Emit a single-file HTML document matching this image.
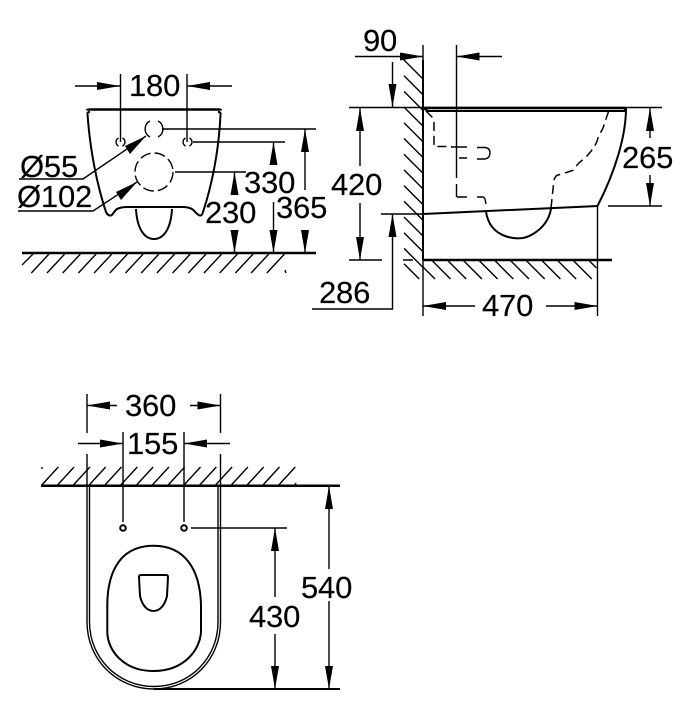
<!DOCTYPE html>
<html>
<head>
<meta charset="utf-8">
<style>
html,body{margin:0;padding:0;background:#fff;width:693px;height:720px;overflow:hidden}
svg{display:block}
text{font-family:"Liberation Sans",sans-serif;font-size:31px;fill:#000;stroke:#000;stroke-width:.15;letter-spacing:-.2px}
.l{fill:none;stroke:#000;stroke-width:1.4}
.m{fill:none;stroke:#000;stroke-width:2}
.t{fill:none;stroke:#000;stroke-width:2.5}
.h{fill:none;stroke:#000;stroke-width:1.4}
.d{fill:none;stroke:#000;stroke-width:1.5;stroke-dasharray:9 5}
.a{fill:#000;stroke:none}
</style>
</head>
<body>
<svg width="693" height="720" viewBox="0 0 693 720" xmlns="http://www.w3.org/2000/svg">
<rect width="693" height="720" fill="#fff"/>

<!-- FRONT VIEW -->
<path class="l" d="M75 86H120M187 86H232M120.500 74V142M187 74V142"/>
<path class="a" d="M120 86l-23-4v8zM187 86l23-4v8z"/>
<text x="129" y="96">180</text>
<path class="m" d="M90 112Q87 112 87.500 114C90 150 97 185 106 212Q108 216 111 215.500C113 215 114 211 117 209Q121 207 127 207H183Q188 207 192 209C195 211 197 215 200 215.500Q202 216 203 212C212 185 219 150 220.500 114Q221 112 218 112"/>
<path class="t" d="M87 110.500Q87 109.500 90 109.500H218Q221 109.500 221 110.500"/>
<path class="m" d="M136 209C137 228 144 239 154 239C164 239 171 228 172 209"/>
<path class="l" d="M150 121A9 9 0 0 0 150 137M158 121A9 9 0 0 1 158 137"/>
<path class="l" d="M118.500 138A4.500 4.500 0 0 0 118.500 146M122.500 138A4.500 4.500 0 0 1 122.500 146M185.500 138A4.500 4.500 0 0 0 185.500 146M189.500 138A4.500 4.500 0 0 1 189.500 146"/>
<circle class="l" cx="154" cy="172" r="19" stroke-dasharray="11 4"/>
<path class="l" d="M162 129H316M193 142H285M175 172H246"/>
<path class="l" d="M305 129V190M305 230V253M273.500 142V165M273.500 202V253M234.500 172V195M234.500 232V253"/>
<path class="a" d="M305 129l-4 23h8zM305 253l-4-23h8zM273.500 142l-4 23h8zM273.500 253l-4-23h8zM234.500 172l-4 23h8zM234.500 253l-4-23h8z"/>
<path class="t" d="M22 253H316"/>
<path class="h" d="M33 254L22 265M49 254l-17.700 19m33.400-19l-17.700 19m33.400-19l-17.700 19m33.400-19l-17.700 19m33.400-19l-17.700 19m33.400-19l-17.700 19m33.400-19l-17.700 19m33.400-19l-17.700 19m33.400-19l-17.700 19m33.400-19l-17.700 19m33.400-19l-17.700 19m33.400-19l-17.700 19m33.400-19l-17.700 19m33.400-19l-17.700 19m33.400-19l-17.700 19m33.400-19l-17.700 19M285 270l1 3"/>
<path class="l" d="M19 179H83L146 136M18 211H93L137 182"/>
<path class="a" d="M146 136L125 146L130 154ZM137 182L116 192L121 200Z"/>
<text x="20" y="177">Ø55</text>
<text x="17" y="207">Ø102</text>
<text x="244" y="193">330</text>
<text x="205" y="223">230</text>
<text x="276" y="218">365</text>

<!-- SIDE VIEW -->
<path class="m" d="M423 60V260"/>
<path class="l" d="M423 45V316M456.500 45V178M456.500 184V197M355 56.500H423M456.500 56.500H502M597.500 206V316"/>
<path class="a" d="M423 56.500l-23-4v8zM456.500 56.500l23-4v8z"/>
<text x="363" y="51">90</text>
<path class="h" d="M400 56l23 23M404 75.700l19 19m-19-3.300l19 19m-19-3.300l19 19m-19-3.300l19 19m-19-3.300l19 19m-19-3.300l19 19m-19-3.300l19 19m-19-3.300l19 19m-19-3.300l19 19m-19-3.300l19 19m-19-3.300l19 19m-19-3.300l19 19M404 263.700L419.300 279"/>
<path class="h" d="M423 267l12 12M431.500 260l19 19m-3.300-19l19 19m-3.300-19l19 19m-3.300-19l19 19m-3.300-19l19 19m-3.300-19l19 19m-3.300-19l19 19m-3.300-19l19 19m-3.300-19l19 19m-3.300-19l19 19m-3.300-19l8 8"/>
<path class="t" d="M423 260H612"/>
<path class="l" d="M403 260H413M349 107.500H662M349 260H382M381 214H423M608 206H662"/>
<path class="m" d="M423 108L428 111H625V108M626 108C626 135 616 170 597.500 206L423 214"/>
<path class="t" d="M424 108H626"/>
<path class="d" d="M426 111L432 117Q434 118 434 122V146.500H452"/>
<path class="l" d="M451 147H467M459 158H467"/>
<path class="l" d="M477 147.500H485Q490 148 490 153Q490 158 485 159H477"/>
<path class="l" d="M457 197H467M477 197H483Q484 197 485 199L486 204"/>
<path class="m" d="M486 212C488 224 494 232 505 236C516 240 525 239 533 234C543 228 549 220 551 209"/>
<path class="d" stroke-dasharray="8 4" d="M551 208L554 180Q555 176 558 175L568 172L574 170C577 163 583 160 587 156C592 150 596 146 598 138C600 132 603 130 604 125L609 110"/>
<path class="l" d="M650 108V138M650 175V206M360 108V166M360 203V260M392.500 62V107M392.500 214V309H312M423 306H475M546 306H597.500"/>
<path class="a" d="M650 108l-4 23h8zM650 206l-4-23h8zM360 108l-4 23h8zM360 260l-4-23h8zM392.500 107l-4-23h8zM392.500 214l-4 23h8zM423 306l23-4v8zM597.500 306l-23-4v8z"/>
<text x="622" y="168">265</text>
<text x="331" y="195">420</text>
<text x="319" y="303">286</text>
<text x="482" y="316">470</text>

<!-- PLAN VIEW -->
<path class="l" d="M87 394V433M220.500 394V433M87 405.500H117M190 405.500H220.500M78 443.500H123M184 443.500H230M123 432V522M184 432V522M87 454V486M220.500 454V486"/>
<path class="a" d="M87 405.500l23-4v8zM220.500 405.500l-23-4v8zM123 443.500l-23-4v8zM184 443.500l23-4v8z"/>
<text x="125" y="416">360</text>
<text x="127" y="454">155</text>
<path class="t" d="M41 485.700H340"/>
<path class="h" d="M58.300 467l-17 18.500m32.800-18.500l-17 18.500m32.800-18.500l-17 18.500m32.800-18.500l-17 18.500m32.800-18.500l-17 18.500m32.800-18.500l-17 18.500m32.800-18.500l-17 18.500m32.800-18.500l-17 18.500m32.800-18.500l-17 18.500m32.800-18.500l-17 18.500m32.800-18.500l-17 18.500m32.800-18.500l-17 18.500m32.800-18.500l-17 18.500m32.800-18.500l-17 18.500m32.800-18.500l-17 18.500m32.800-18.500l-17 18.500M42 467v2M296 483l-1 2"/>
<path class="l" d="M87 486V622C87 660 117 689 154 689C191 689 220.500 660 220.500 622V486"/>
<path class="l" d="M89.500 486V622C89.500 658 118 686.500 154 686.500C190 686.500 218 658 218 622V486"/>
<path class="m" d="M154 689H340"/>
<circle class="m" cx="123" cy="528" r="2.800"/>
<circle class="m" cx="184" cy="528" r="2.800"/>
<path class="l" d="M191 528H287"/>
<path class="m" d="M153.500 545.700C123 545.700 107.500 568 107.300 605V632C107.500 650 123 671 153.500 671C184 671 200 650 201 632V605C200 568 184 545.700 153.500 545.700Z"/>
<path class="m" d="M141 575H166Q168 575 168 577L167 596C165 605 160 611 153.500 611C147 611 142 605 140 596L139 577Q139 575 141 575Z"/>
<path class="l" d="M275 528V597M275 634V689M329 486V569M329 601V689"/>
<path class="a" d="M275 528l-4 23h8zM275 689l-4-23h8zM329 486l-4 23h8zM329 689l-4-23h8z"/>
<text x="249" y="627">430</text>
<text x="301" y="598">540</text>
</svg>
</body>
</html>
